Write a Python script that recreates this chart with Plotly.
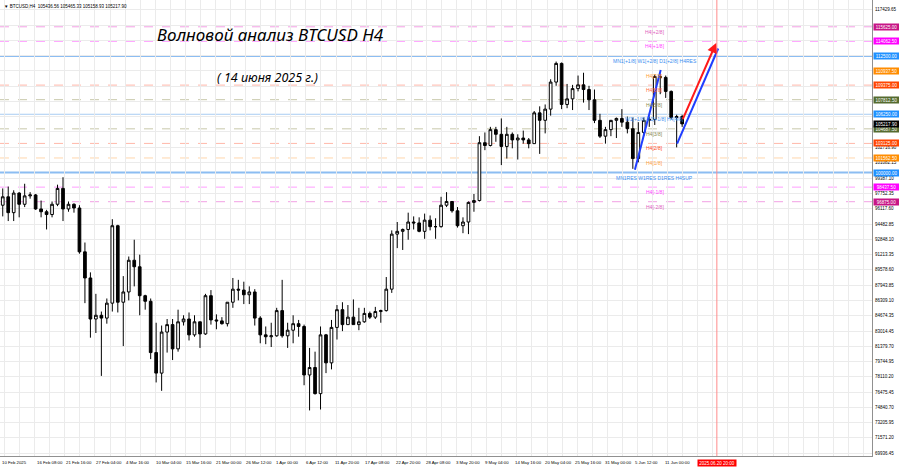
import plotly.graph_objects as go
import pandas as pd

# ---------------- data ----------------
# daily candles, Feb 9 .. Jun 14 2025
open_ = [96500, 96500, 97400, 95700, 97800, 96600, 97500, 97600, 96100, 95800, 95500, 96600, 98300, 96100, 96600, 96200, 91500, 88700, 84300, 84700,
         84400, 86000, 94300, 86100, 87200, 90600, 89900, 86800, 86200, 80700, 78500, 82900, 83700, 81100, 84000, 84300, 82600, 84000, 82700, 86800,
         84200, 84100, 83800, 86100, 87500, 87400, 86900, 87200, 84400, 82600, 82400,
         82500, 85200, 82500, 83100, 83800, 83500, 78300, 79100, 76300, 82600, 79600, 83400, 85300, 83700, 84500, 83700, 84000, 84900, 84500, 85100,
         85200, 87500, 93400, 93700, 93900, 94700, 94600, 93700, 94900, 94200,
         94200, 96500, 96900, 95900, 94300, 94700, 96800, 97000, 103200, 102900, 104600, 104100, 102800, 104100, 103500, 103700, 103500, 103100, 106400, 105600,
         106800, 109700, 111700, 107300, 107900, 109000, 109400, 108900, 107800, 105600, 103900,
         104600, 105600, 105800, 105400, 104700, 101500, 104300, 105600, 105700, 110300, 110200, 108700, 105900, 106000]
high_ = [97300, 98300, 98500, 98100, 97900, 98800, 97900, 97700, 97000, 96000, 96900, 98700, 99500, 96900, 96700, 96500, 92500, 89300, 87000, 85100,
         86500, 95000, 94400, 88900, 91000, 92800, 91200, 86900, 86500, 83900, 83600, 84300, 84300, 85300, 84700, 85000, 84700, 84000, 87000, 87400,
         84800, 84500, 86100, 88700, 88500, 88300, 87800, 87500, 84600, 83500, 83900,
         85500, 88500, 83900, 84700, 84200, 83700, 81200, 80800, 83500, 82700, 84200, 85800, 86100, 85800, 86400, 85500, 85500, 85100, 85600, 85300,
         88800, 93800, 94700, 94000, 95700, 95300, 95200, 95600, 95400, 95100,
         97400, 97900, 96900, 96300, 95200, 96900, 97700, 103900, 104300, 104900, 104900, 105800, 104900, 104300, 104100, 104500, 103700, 106600, 107100, 107300,
         110000, 111900, 111800, 109500, 109400, 110400, 110700, 109300, 108900, 106300, 104900,
         105400, 105900, 106800, 106000, 105900, 105400, 105900, 106000, 110500, 110600, 110400, 108800, 106200, 106200]
low_ = [94700, 95300, 94800, 94800, 95200, 96300, 97200, 96000, 95200, 93900, 95200, 96400, 94800, 95800, 95700, 91300, 86000, 82300, 82800, 78200,
        83800, 85100, 85000, 81400, 86300, 87800, 84700, 85300, 80000, 77500, 76600, 80700, 79900, 80800, 83600, 82000, 82400, 81200, 82600, 83700,
        83200, 83700, 83500, 85500, 86300, 85900, 85900, 83600, 81700, 81600, 81300,
        82400, 82300, 81200, 81700, 82400, 77200, 74500, 76200, 74600, 78500, 78900, 82100, 83000, 83700, 83700, 83100, 83900, 84300, 84300, 83900,
        85100, 87100, 91900, 91700, 92800, 93900, 93600, 92900, 93800, 92900,
        94100, 96300, 95700, 94100, 93500, 93400, 95800, 96900, 102400, 102800, 103300, 100800, 101500, 102600, 101400, 103100, 102600, 103100, 102000, 104200,
        106100, 109300, 106800, 106900, 106700, 108700, 107500, 106700, 105300, 103700, 103100,
        103900, 103700, 104900, 104200, 100400, 101100, 103900, 104900, 105100, 108400, 108000, 105700, 102700, 104900]
close_ = [96500, 97400, 95700, 97800, 96600, 97500, 97600, 96100, 95800, 95500, 96600, 98300, 96100, 96600, 96200, 91500, 88700, 84300, 84700, 84400,
          86000, 94300, 86100, 87200, 90600, 89900, 86800, 86200, 80700, 78500, 82900, 83700, 81100, 84000, 84300, 82600, 84000, 82700, 86800, 84200,
          84100, 83800, 86100, 87500, 87400, 86900, 87200, 84400, 82600, 82400, 82500,
          85200, 82500, 83100, 83800, 83500, 78300, 79100, 76300, 82600, 79600, 83400, 85300, 83700, 84500, 83700, 84000, 84900, 84500, 85100, 85200,
          87500, 93400, 93700, 93900, 94700, 94600, 93700, 94900, 94200, 94200,
          96500, 96900, 95900, 94300, 94700, 96800, 97000, 103200, 102900, 104600, 104100, 102800, 104100, 103500, 103700, 103500, 103100, 106400, 105600, 106800,
          109700, 111700, 107300, 107900, 109000, 109400, 108900, 107800, 105600, 103900, 104600,
          105600, 105800, 105400, 104700, 101500, 104300, 105600, 105700, 110300, 110200, 108700, 105900, 106000, 105217.9]

# Murrey-math style levels
level_prices = [115625.0, 114062.5, 112500.0, 110937.5, 109375.0, 107812.5, 106250.0,
                104687.5, 103125.0, 101562.5, 100000.0, 98437.5, 96875.0]
level_names = ["H4[+2/8]", "H4[+1/8]", "MN1[+1/8] W1[+2/8] D1[+2/8] H4RES", "H4[7/8]", "H4[6/8]",
               "H4[5/8]", "W1[+1/8] D1[+1/8] H4[4/8]", "H4[3/8]", "H4[2/8]", "H4[1/8]",
               "MN1RES W1RES D1RES H4SUP", "H4[-1/8]", "H4[-2/8]"]
level_labels = ["115625.00", "114062.50", "112500.00", "110937.50", "109375.00", "107812.50", "106250.00",
                "104687.50", "103125.00", "101562.50", "100000.00", "98437.50", "96875.00"]

current_price = 105217.90
current_label = "105217.90"

# price-scale labels that are visible (the others sit under the coloured boxes)
y_tick_labels = ["117429.65", "102716.90", "101082.15", "99387.10", "97752.35", "96117.60",
                 "94482.85", "92848.10", "91213.35", "89578.60", "87943.85", "86309.10", "84674.35",
                 "83014.45", "81379.70", "79744.95", "78110.20", "76475.45", "74840.70", "73205.95",
                 "71571.20", "69936.45"]
y_grid_values = [117429.65, 115794.90, 114160.15, 112525.40, 110890.65, 109255.90, 107621.15,
                 105986.40, 104351.65, 102716.90, 101082.15, 99387.10, 97752.35, 96117.60,
                 94482.85, 92848.10, 91213.35, 89578.60, 87943.85, 86309.10, 84674.35,
                 83014.45, 81379.70, 79744.95, 78110.20, 76475.45, 74840.70, 73205.95,
                 71571.20, 69936.45]

x_label_times = ["2025-02-10 00:00", "2025-02-16 08:00", "2025-02-21 16:00", "2025-02-27 04:00", "2025-03-04 16:00",
                 "2025-03-10 04:00", "2025-03-15 16:00", "2025-03-21 00:00", "2025-03-26 12:00", "2025-04-01 00:00",
                 "2025-04-06 12:00", "2025-04-11 20:00", "2025-04-17 08:00", "2025-04-22 20:00", "2025-04-28 08:00",
                 "2025-05-03 20:00", "2025-05-09 04:00", "2025-05-14 16:00", "2025-05-20 04:00", "2025-05-25 16:00",
                 "2025-05-31 00:00", "2025-06-05 12:00", "2025-06-11 00:00"]
x_label_text = ["10 Feb 2025", "16 Feb 08:00", "21 Feb 16:00", "27 Feb 04:00", "4 Mar 16:00", "10 Mar 04:00",
                "15 Mar 16:00", "21 Mar 00:00", "26 Mar 12:00", "1 Apr 00:00", "6 Apr 12:00", "11 Apr 20:00",
                "17 Apr 08:00", "22 Apr 20:00", "28 Apr 08:00", "3 May 20:00", "9 May 04:00", "14 May 16:00",
                "20 May 04:00", "25 May 16:00", "31 May 00:00", "5 Jun 12:00", "11 Jun 00:00"]

future_time = "2025-06-20 20:00"
future_label = "2025.06.20 20:00"

# wave lines
wave1_time = ["2025-06-05 21:00", "2025-06-10 14:00"]
wave1_price = [100300, 111000]
wave2_time = ["2025-06-13 14:00", "2025-06-21 02:00"]
wave2_price = [103100, 113300]
wave3_time = ["2025-06-14 12:00", "2025-06-20 17:00"]
wave3_price = [105570, 113900]

header_text = "▼ BTCUSD,H4  105436.56 105465.33 105158.93 105217.90"
title_text = "Волновой анализ BTCUSD H4"
subtitle_text = "( 14 июня 2025 г.)"

# ---------------- styles ----------------
line_colors = ["#F2A0E4", "#FF9EFF", "#8CBDF2", "#FFD6AD", "#FFB8AA", "#C8C8AA", "#A8CCF2",
               "#C8C8AA", "#FFB8AA", "#FFD6AD", "#8CBDF2", "#FF9EFF", "#F2A0E4"]
line_dash = ["dash", "dash", "solid", "dash", "dash", "dash", "solid",
             "dash", "dash", "dash", "solid", "dash", "dash"]
line_width = [1, 1, 2, 1, 1, 1, 1, 1, 1, 1, 2, 1, 1]
text_colors = ["#E060C0", "#FF44FF", "#3A8EF0", "#FF9A30", "#FF6A40", "#8A8A50", "#3A8EF0",
               "#8A8A50", "#FF4A20", "#FFA040", "#3A8EF0", "#FF44FF", "#E060C0"]
box_colors = ["#C71585", "#FF00FF", "#1E90FF", "#FF8C00", "#FF4500", "#556B2F", "#1E90FF",
              "#556B2F", "#FF4500", "#FF8C00", "#1E90FF", "#FF00FF", "#C71585"]
label_time = "2025-06-09 13:00"
FONT = "Liberation Sans"

dates = pd.date_range("2025-02-09 12:00", periods=len(close_), freq="D")

fig = go.Figure()
fig.add_trace(go.Candlestick(
    x=dates, open=open_, high=high_, low=low_, close=close_,
    increasing=dict(line=dict(color="black", width=1), fillcolor="white"),
    decreasing=dict(line=dict(color="black", width=1), fillcolor="black"),
    whiskerwidth=0, hoverinfo="skip", showlegend=False))

for t, p in [(wave1_time, wave1_price), (wave2_time, wave2_price)]:
    fig.add_trace(go.Scatter(x=t, y=p, mode="lines", line=dict(color="#1F3DFF", width=2),
                             hoverinfo="skip", showlegend=False))

shapes = []
annotations = []
for i, p in enumerate(level_prices):
    shapes.append(dict(type="line", xref="paper", x0=0, x1=1, yref="y", y0=p, y1=p, layer="below",
                       line=dict(color=line_colors[i], width=line_width[i], dash=line_dash[i])))
    annotations.append(dict(x=label_time, y=p, xref="x", yref="y", text=level_names[i], showarrow=False,
                            xanchor="center", yanchor="top", yshift=0,
                            font=dict(family=FONT, size=5, color=text_colors[i])))

shapes.append(dict(type="line", xref="x", x0=future_time, x1=future_time, yref="paper", y0=0, y1=1,
                   line=dict(color="#FF8C8C", width=1)))

# red arrow
annotations.append(dict(x=wave3_time[1], y=wave3_price[1], ax=wave3_time[0], ay=wave3_price[0],
                        xref="x", yref="y", axref="x", ayref="y", text="", showarrow=True,
                        arrowhead=2, arrowsize=1, arrowwidth=2, arrowcolor="#FF1A1A"))

# right price scale labels
for s in y_tick_labels:
    annotations.append(dict(x=1, xref="paper", y=float(s), yref="y", text=s, showarrow=False,
                            xanchor="left", yanchor="middle", xshift=1,
                            font=dict(family=FONT, size=4.5, color="black")))
for i, p in enumerate(level_prices):
    annotations.append(dict(x=1, xref="paper", y=p, yref="y", text=level_labels[i], showarrow=False,
                            xanchor="left", yanchor="middle", xshift=1, width=24, height=5,
                            bgcolor=box_colors[i], borderpad=0.5,
                            font=dict(family=FONT, size=4.5, color="white")))
annotations.append(dict(x=1, xref="paper", y=current_price, yref="y", text=current_label, showarrow=False,
                        xanchor="left", yanchor="middle", xshift=1, width=24, height=5,
                        bgcolor="black", borderpad=0.5, font=dict(family=FONT, size=4.5, color="white")))

# time labels
for t, s in zip(x_label_times, x_label_text):
    annotations.append(dict(x=t, xref="x", y=0, yref="paper", text=s, showarrow=False,
                            xanchor="left", yanchor="top", xshift=0, yshift=-2,
                            font=dict(family=FONT, size=4.3, color="black")))
annotations.append(dict(x=future_time, xref="x", y=0, yref="paper", text=future_label, showarrow=False,
                        xanchor="center", yanchor="top", yshift=-3, width=37, height=5,
                        bgcolor="#FF0000", borderpad=0.5, font=dict(family=FONT, size=4.5, color="white")))

# header and titles
annotations.append(dict(x=0, xref="paper", y=1, yref="paper", text=header_text, showarrow=False,
                        xanchor="left", yanchor="top", xshift=2, yshift=-2,
                        font=dict(family=FONT, size=4.5, color="black")))
annotations.append(dict(x=0.31, xref="paper", y=0.925, yref="paper", text="<i>" + title_text + "</i>",
                        showarrow=False, xanchor="center", yanchor="middle",
                        font=dict(family="Noto Sans", size=17, color="black")))
annotations.append(dict(x=0.307, xref="paper", y=0.831, yref="paper", text="<i>" + subtitle_text + "</i>",
                        showarrow=False, xanchor="center", yanchor="middle",
                        font=dict(family="Noto Sans", size=12.5, color="black")))

fig.update_layout(
    width=899, height=468,
    margin=dict(l=0, r=27, t=0, b=12),
    paper_bgcolor="white", plot_bgcolor="white",
    showlegend=False,
    shapes=shapes, annotations=annotations,
    xaxis=dict(type="date", range=["2025-02-10 00:00", "2025-07-19 03:36"],
               rangeslider=dict(visible=False), showticklabels=False, ticks="",
               showgrid=True, gridcolor="#EBEBEB", gridwidth=1,
               dtick=2.75 * 86400000, tick0="2025-02-16 08:00",
               showline=True, linecolor="#909090", linewidth=1, zeroline=False),
    yaxis=dict(side="right", range=[69615, 118498], showticklabels=False, ticks="",
               tickmode="array", tickvals=y_grid_values,
               showgrid=True, gridcolor="#EBEBEB", gridwidth=1,
               showline=True, linecolor="#909090", linewidth=1, zeroline=False),
)

fig.write_html("out.html", config={"displayModeBar": False},
               post_script="document.body.style.margin='0';document.body.style.overflow='hidden';")
